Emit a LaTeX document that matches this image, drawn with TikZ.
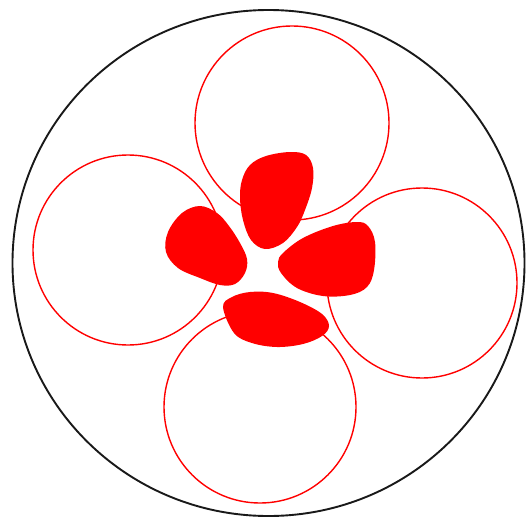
\documentclass[tikz,border=0pt]{standalone}
\begin{document}
\begin{tikzpicture}[x=1pt,y=-1pt,
  ring/.style={draw=red, line width=1.4pt},
  blob/.style={fill=red, draw=none}]
\useasboundingbox (0,0) rectangle (526,516);
\fill[white] (0,0) rectangle (526,516);
\draw[black!90, line width=1.9pt] (268.5,263) ellipse [x radius=256, y radius=253];
\draw[ring] (292,123) circle [radius=97];
\draw[ring] (128,250) circle [radius=95];
\draw[ring] (422,283) circle [radius=95];
\draw[ring] (260,407) circle [radius=96];
% top blob
\fill[blob] plot[smooth cycle, tension=0.6] coordinates {
 (290,152) (306,155) (313,168) (312,188) (305,210) (297,227) (283,243) (265,249)
 (251,240) (243,220) (240,198) (242,180) (250,165) (266,156)};
% left blob
\fill[blob] plot[smooth cycle, tension=0.6] coordinates {
 (200,206) (217,213) (229,226) (240,243) (247,259) (245,273) (235,284) (220,285)
 (200,278) (178,268) (166,252) (168,232) (182,213)};
% right blob
\fill[blob] plot[smooth cycle, tension=0.6] coordinates {
 (283,253) (303,238) (333,226) (357,222) (368,226) (375,242) (374,270) (367,287)
 (350,295) (323,296) (297,288) (281,273) (278,262)};
% bottom blob
\fill[blob] plot[smooth cycle, tension=0.6] coordinates {
 (223,307) (232,297) (250,292) (273,293) (300,302) (322,314) (329,326) (322,336)
 (303,344) (277,347) (252,343) (234,333)};
\end{tikzpicture}
\end{document}
